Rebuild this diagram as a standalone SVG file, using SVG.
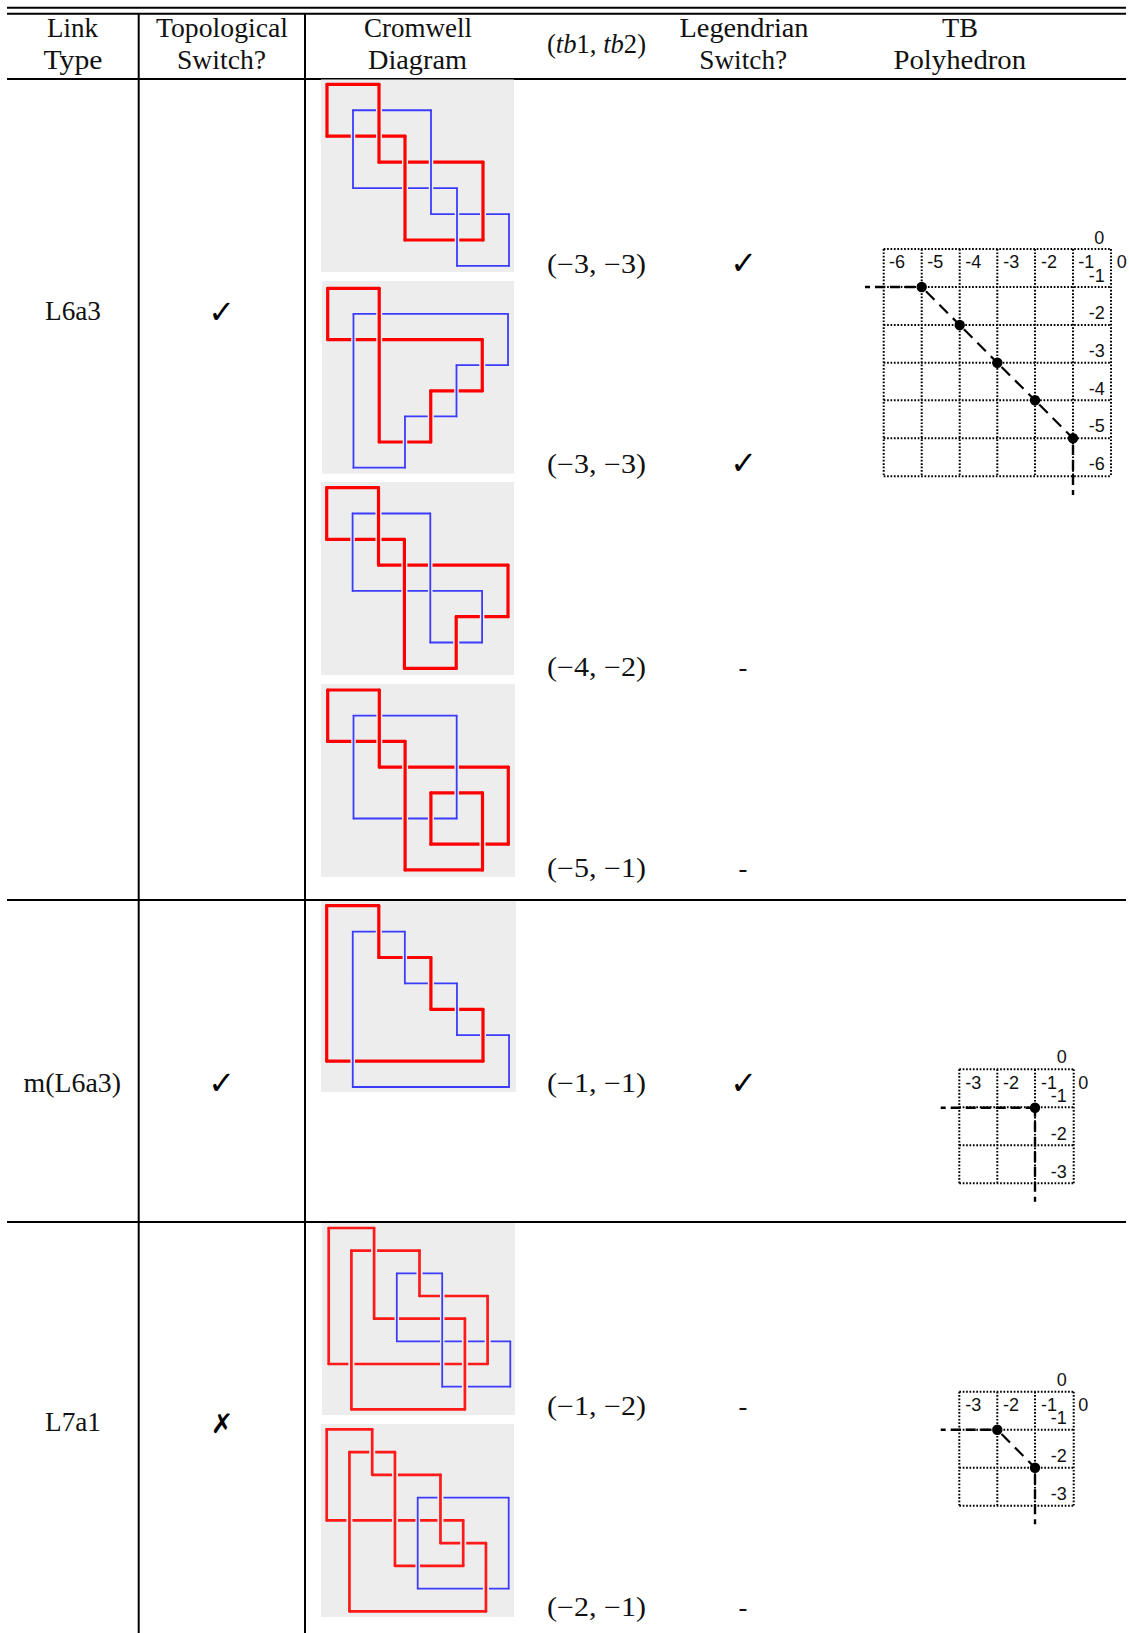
<svg xmlns="http://www.w3.org/2000/svg" width="1129" height="1633" viewBox="0 0 1129 1633">
<style>
.cm{font-family:"Liberation Serif","Times New Roman",serif;font-size:26.5px;fill:#111;text-anchor:middle}
.it{font-style:italic}
.sym{font-family:"DejaVu Sans",sans-serif;font-size:32px;fill:#000;text-anchor:middle}
.lb{font-family:"Liberation Sans",Arial,sans-serif;font-size:18px;fill:#111;text-anchor:middle}
.rule{stroke:#000;stroke-width:2;fill:none}
.bg{fill:#ededed}
.k path{fill:none;vector-effect:non-scaling-stroke}
.r{stroke:#f00;stroke-width:3.2;stroke-linecap:round}
.b{stroke:#3c3cff;stroke-width:1.8;stroke-linecap:round}
.k2 .r{stroke-width:2.7;stroke:#ff1a1a}
.gr{stroke:#ededed;stroke-width:6}
.gb{stroke:#ededed;stroke-width:4.5}
.grid{stroke:#000;stroke-width:2;stroke-dasharray:1.7 1.7;fill:none}
.dash{stroke:#000;stroke-width:2.2;stroke-dasharray:12 7;stroke-dashoffset:-6;fill:none}
.ray{stroke:#000;stroke-width:2.4;stroke-dasharray:10 5;stroke-dashoffset:5;fill:none}
.dot{fill:#000}
</style>
<g id="table-rules">
<path class="rule" d="M7 7.7H1126M7 13.7H1126M7 79H1126M7 900H1126M7 1222H1126"/>
<path class="rule" d="M138.7 13V1633M305 13V1633"/>
</g>
<g id="header">
<text class="cm" x="72.5" y="36.7" textLength="51" lengthAdjust="spacingAndGlyphs">Link</text>
<text class="cm" x="73" y="69" textLength="59" lengthAdjust="spacingAndGlyphs">Type</text>
<text class="cm" x="222" y="36.7" textLength="132" lengthAdjust="spacingAndGlyphs">Topological</text>
<text class="cm" x="221.5" y="69" textLength="89" lengthAdjust="spacingAndGlyphs">Switch?</text>
<text class="cm" x="418" y="36.7" textLength="108" lengthAdjust="spacingAndGlyphs">Cromwell</text>
<text class="cm" x="417.5" y="69" textLength="99" lengthAdjust="spacingAndGlyphs">Diagram</text>
<text class="cm" x="596.5" y="52.5" textLength="99" lengthAdjust="spacingAndGlyphs">(<tspan class="it">tb</tspan>1, <tspan class="it">tb</tspan>2)</text>
<text class="cm" x="744" y="36.7" textLength="129" lengthAdjust="spacingAndGlyphs">Legendrian</text>
<text class="cm" x="743.2" y="69" textLength="88" lengthAdjust="spacingAndGlyphs">Switch?</text>
<text class="cm" x="960" y="36.7" textLength="36" lengthAdjust="spacingAndGlyphs">TB</text>
<text class="cm" x="959.8" y="69" textLength="132.6" lengthAdjust="spacingAndGlyphs">Polyhedron</text>
</g>
<g id="row-L6a3">
<text class="cm" x="73" y="320.2" textLength="56" lengthAdjust="spacingAndGlyphs">L6a3</text>
<text class="sym" x="221.7" y="322.5">✓</text>
<text class="cm" x="596.5" y="273.3" textLength="99" lengthAdjust="spacingAndGlyphs">(−3, −3)</text>
<text class="sym" x="743.7" y="274.2">✓</text>
<text class="cm" x="596.5" y="473" textLength="99" lengthAdjust="spacingAndGlyphs">(−3, −3)</text>
<text class="sym" x="743.7" y="474.2">✓</text>
<text class="cm" x="596.5" y="676" textLength="99" lengthAdjust="spacingAndGlyphs">(−4, −2)</text>
<text class="cm" x="743" y="675.5">-</text>
<text class="cm" x="596.5" y="876.8" textLength="99" lengthAdjust="spacingAndGlyphs">(−5, −1)</text>
<text class="cm" x="743" y="876.5">-</text>
</g>
<g id="row-mL6a3">
<text class="cm" x="72.3" y="1091.7" textLength="97.4" lengthAdjust="spacingAndGlyphs">m(L6a3)</text>
<text class="sym" x="221.7" y="1094">✓</text>
<text class="cm" x="596.5" y="1092" textLength="99" lengthAdjust="spacingAndGlyphs">(−1, −1)</text>
<text class="sym" x="743.7" y="1094">✓</text>
</g>
<g id="row-L7a1">
<text class="cm" x="73" y="1430.7" textLength="56" lengthAdjust="spacingAndGlyphs">L7a1</text>
<text class="sym" x="222" y="1433" font-weight="bold" style="font-size:27px">✗</text>
<text class="cm" x="596.5" y="1414.7" textLength="99" lengthAdjust="spacingAndGlyphs">(−1, −2)</text>
<text class="cm" x="743" y="1414.7">-</text>
<text class="cm" x="596.5" y="1615.5" textLength="99" lengthAdjust="spacingAndGlyphs">(−2, −1)</text>
<text class="cm" x="743" y="1615.5">-</text>
</g>

<g id="cromwell-1">
<rect class="bg" x="321" y="79.5" width="193" height="192.5"/>
<g class="k" transform="translate(327 84.3) scale(26 25.95)">
<path class="r" d="M0 0H2M2 3H6M3 6H6M0 2H3"/>
<path class="b" d="M1 1H4M4 5H7M5 7H7M1 4H5"/>
<path class="gr" d="M0 .13V1.87M2 .13V2.87M6 3.13V5.87M3 2.13V5.87"/>
<path class="gb" d="M1 1.13V3.87M4 1.13V4.87M7 5.13V6.87M5 4.13V6.87"/>
<path class="r" d="M0 0V2M2 0V3M6 3V6M3 2V6"/>
<path class="b" d="M1 1V4M4 1V5M7 5V7M5 4V7"/>
</g>
</g>
<g id="cromwell-2">
<rect class="bg" x="322" y="281" width="192" height="192.7"/>
<g class="k" transform="translate(327.7 288.3) scale(25.76 25.62)">
<path class="r" d="M0 0H2M2 6H4M4 4H6M0 2H6"/>
<path class="b" d="M1 1H7M5 3H7M3 5H5M1 7H3"/>
<path class="gr" d="M0 .13V1.87M2 .13V5.87M4 4.13V5.87M6 2.13V3.87"/>
<path class="gb" d="M1 1.13V6.87M7 1.13V2.87M5 3.13V4.87M3 5.13V6.87"/>
<path class="r" d="M0 0V2M2 0V6M4 4V6M6 2V4"/>
<path class="b" d="M1 1V7M7 1V3M5 3V5M3 5V7"/>
</g>
</g>
<g id="cromwell-3">
<rect class="bg" x="321" y="482" width="193" height="193"/>
<g class="k" transform="translate(326.7 487.7) scale(25.9 25.8)">
<path class="r" d="M0 0H2M2 3H7M5 5H7M3 7H5M0 2H3"/>
<path class="b" d="M1 1H4M4 6H6M1 4H6"/>
<path class="gr" d="M0 .13V1.87M2 .13V2.87M7 3.13V4.87M5 5.13V6.87M3 2.13V6.87"/>
<path class="gb" d="M1 1.13V3.87M4 1.13V5.87M6 4.13V5.87"/>
<path class="r" d="M0 0V2M2 0V3M7 3V5M5 5V7M3 2V7"/>
<path class="b" d="M1 1V4M4 1V6M6 4V6"/>
</g>
</g>
<g id="cromwell-4">
<rect class="bg" x="321" y="684" width="194" height="193"/>
<g class="k" transform="translate(327.7 690) scale(25.8 25.7)">
<path class="r" d="M0 0H2M2 3H7M4 6H7M4 4H6M3 7H6M0 2H3"/>
<path class="b" d="M1 1H5M1 5H5"/>
<path class="gr" d="M0 .13V1.87M2 .13V2.87M7 3.13V5.87M4 4.13V5.87M6 4.13V6.87M3 2.13V6.87"/>
<path class="gb" d="M1 1.13V4.87M5 1.13V4.87"/>
<path class="r" d="M0 0V2M2 0V3M7 3V6M4 4V6M6 4V7M3 2V7"/>
<path class="b" d="M1 1V5M5 1V5"/>
</g>
</g>
<g id="cromwell-5">
<rect class="bg" x="321" y="901" width="195" height="191"/>
<g class="k" transform="translate(326.7 905.7) scale(26.05 25.9)">
<path class="r" d="M0 0H2M2 2H4M4 4H6M0 6H6"/>
<path class="b" d="M1 1H3M3 3H5M5 5H7M1 7H7"/>
<path class="gr" d="M0 .13V5.87M2 .13V1.87M4 2.13V3.87M6 4.13V5.87"/>
<path class="gb" d="M1 1.13V6.87M3 1.13V2.87M5 3.13V4.87M7 5.13V6.87"/>
<path class="r" d="M0 0V6M2 0V2M4 2V4M6 4V6"/>
<path class="b" d="M1 1V7M3 1V3M5 3V5M7 5V7"/>
</g>
</g>
<g id="cromwell-6">
<rect class="bg" x="322" y="1223" width="193" height="192"/>
<g class="k k2" transform="translate(328.7 1228) scale(22.7 22.67)">
<path class="r" d="M0 0H2M2 4H6M1 8H6M1 1H4M4 3H7M0 6H7"/>
<path class="b" d="M3 2H5M5 7H8M3 5H8"/>
<path class="gr" d="M0 .13V5.87M2 .13V3.87M6 4.13V7.87M1 1.13V7.87M4 1.13V2.87M7 3.13V5.87"/>
<path class="gb" d="M3 2.13V4.87M5 2.13V6.87M8 5.13V6.87"/>
<path class="r" d="M0 0V6M2 0V4M6 4V8M1 1V8M4 1V3M7 3V6"/>
<path class="b" d="M3 2V5M5 2V7M8 5V7"/>
</g>
</g>
<g id="cromwell-7">
<rect class="bg" x="321" y="1424" width="193" height="193"/>
<g class="k k2" transform="translate(326.7 1429.3) scale(22.75)">
<path class="r" d="M0 0H2M2 2H5M5 5H7M1 8H7M1 1H3M3 6H6M0 4H6"/>
<path class="b" d="M4 3H8M4 7H8"/>
<path class="gr" d="M0 .13V3.87M2 .13V1.87M5 2.13V4.87M7 5.13V7.87M1 1.13V7.87M3 1.13V5.87M6 4.13V5.87"/>
<path class="gb" d="M4 3.13V6.87M8 3.13V6.87"/>
<path class="r" d="M0 0V4M2 0V2M5 2V5M7 5V8M1 1V8M3 1V6M6 4V6"/>
<path class="b" d="M4 3V7M8 3V7"/>
</g>
</g>

<g id="tb-polyhedron-1">
<path class="grid" d="M883.7 249H1111M883.7 287H1111M883.7 325H1111M883.7 362.7H1111M883.7 400.3H1111M883.7 438.3H1111M883.7 476.3H1111M883.7 249V476.3M921.7 249V476.3M959.7 249V476.3M997.3 249V476.3M1035 249V476.3M1073 249V476.3M1111 249V476.3"/>
<path class="dash" d="M921.7 287L959.7 325M959.7 325L997.3 362.7M997.3 362.7L1035 400.3M1035 400.3L1073 438.3"/>
<path class="ray" d="M865 287H921.7M1073 495V438.3"/>
<circle class="dot" cx="921.7" cy="287" r="5.2"/><circle class="dot" cx="959.7" cy="325" r="5.2"/><circle class="dot" cx="997.3" cy="362.7" r="5.2"/><circle class="dot" cx="1035" cy="400.3" r="5.2"/><circle class="dot" cx="1073" cy="438.3" r="5.2"/>
<text class="lb" x="1099.3" y="244">0</text>
<text class="lb" x="897" y="268.3">-6</text><text class="lb" x="935.3" y="268.3">-5</text><text class="lb" x="973.3" y="268.3">-4</text><text class="lb" x="1011.3" y="268.3">-3</text><text class="lb" x="1049" y="268.3">-2</text><text class="lb" x="1086.3" y="268.3">-1</text>
<text class="lb" x="1121.7" y="268.3">0</text>
<text class="lb" x="1096.7" y="281.7">-1</text><text class="lb" x="1096.7" y="319">-2</text><text class="lb" x="1096.7" y="356.7">-3</text><text class="lb" x="1096.7" y="394.7">-4</text><text class="lb" x="1096.7" y="432.3">-5</text><text class="lb" x="1096.7" y="470">-6</text>
</g>
<g id="tb-polyhedron-2">
<path class="grid" d="M959.3 1069.3H1073.7M959.3 1107.3H1073.7M959.3 1145.3H1073.7M959.3 1183.3H1073.7M959.3 1069.3V1183.3M997.3 1069.3V1183.3M1035 1069.3V1183.3M1073.7 1069.3V1183.3"/>
<path class="ray" d="M940.7 1107.7H1035M1035 1201.7V1107.7"/>
<circle class="dot" cx="1035" cy="1107.7" r="5.2"/>
<text class="lb" x="1061.7" y="1063.3">0</text>
<text class="lb" x="973.3" y="1089">-3</text><text class="lb" x="1011" y="1089">-2</text><text class="lb" x="1049" y="1089">-1</text>
<text class="lb" x="1083.3" y="1089">0</text>
<text class="lb" x="1058.7" y="1101.7">-1</text><text class="lb" x="1058.7" y="1140">-2</text><text class="lb" x="1058.7" y="1178">-3</text>
</g>
<g id="tb-polyhedron-3">
<path class="grid" d="M959.3 1391.7H1073.7M959.3 1429.7H1073.7M959.3 1467.7H1073.7M959.3 1505.7H1073.7M959.3 1391.7V1505.7M997.3 1391.7V1505.7M1035 1391.7V1505.7M1073.7 1391.7V1505.7"/>
<path class="dash" d="M997.3 1429.7L1035 1467.7"/>
<path class="ray" d="M940.7 1429.7H997.3M1035 1524.3V1467.7"/>
<circle class="dot" cx="997.3" cy="1429.7" r="5.2"/><circle class="dot" cx="1035" cy="1467.7" r="5.2"/>
<text class="lb" x="1061.7" y="1385.6">0</text>
<text class="lb" x="973.3" y="1411.3">-3</text><text class="lb" x="1011" y="1411.3">-2</text><text class="lb" x="1049" y="1411.3">-1</text>
<text class="lb" x="1083.3" y="1411.3">0</text>
<text class="lb" x="1058.7" y="1424">-1</text><text class="lb" x="1058.7" y="1462.3">-2</text><text class="lb" x="1058.7" y="1500.3">-3</text>
</g>
</svg>
